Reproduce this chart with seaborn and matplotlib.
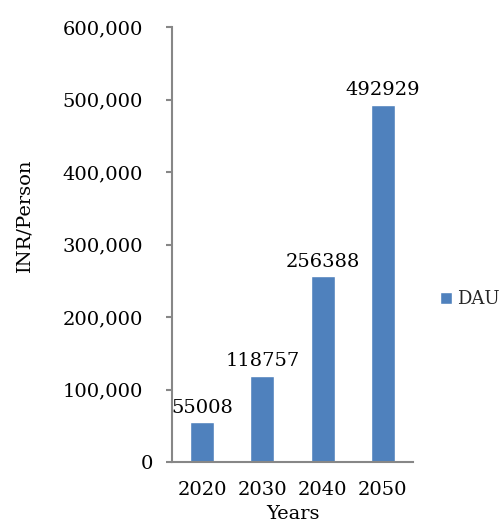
import matplotlib
matplotlib.use("Agg")
import matplotlib.pyplot as plt
import seaborn as sns
import pandas as pd
from matplotlib.ticker import FuncFormatter
from matplotlib.transforms import ScaledTranslation

years = ["2020", "2030", "2040", "2050"]
dau_values = [55008, 118757, 256388, 492929]
series_name = "DAU"
y_ticks = [0, 100000, 200000, 300000, 400000, 500000, 600000]

df = pd.DataFrame({"Years": years, "Value": dau_values, "Series": series_name})

sns.set_theme(style="white")
plt.rcParams["font.family"] = ["DejaVu Serif"]

FS = 14

fig = plt.figure(figsize=(5.02, 5.25), dpi=100)
ax = fig.add_axes([172 / 502, (525 - 462) / 525, 241 / 502, 435 / 525])

sns.barplot(data=df, x="Years", y="Value", hue="Series", palette=["#4F81BD"],
            width=0.4, ax=ax, legend=True, saturation=1)

ax.set_ylim(0, 600000)
ax.set_yticks(y_ticks)
ax.yaxis.set_major_formatter(FuncFormatter(lambda v, p: f"{int(v):,}"))

axis_color = "#878787"
for s in ["top", "right"]:
    ax.spines[s].set_visible(False)
for s in ["left", "bottom"]:
    ax.spines[s].set_color(axis_color)
    ax.spines[s].set_linewidth(1.5)

ax.tick_params(axis="y", left=True, length=4, width=1.5, color=axis_color,
               labelsize=FS, pad=17, labelcolor="black")
ax.tick_params(axis="x", bottom=False, labelsize=FS, pad=8, labelcolor="black")

# the zero label sits a little closer to the axis
zero_label = ax.yaxis.get_major_ticks()[0].label1
zero_label.set_transform(zero_label.get_transform() +
                         ScaledTranslation(0.10, 0, fig.dpi_scale_trans))

# value labels above each bar
for container in ax.containers:
    ax.bar_label(container, labels=[str(v) for v in dau_values], padding=4,
                 fontsize=FS, color="black")

ax.set_xlabel("Years", fontsize=FS, color="black", labelpad=4)
ax.set_ylabel("INR/Person", fontsize=FS, color="black")
ax.yaxis.set_label_coords((33 - 172) / 241, (462 - 215) / 435)

leg = ax.legend(loc="center left", bbox_to_anchor=((440 - 172) / 241, (462 - 299) / 435),
                frameon=False, fontsize=13, handlelength=0.65, handleheight=0.65,
                handletextpad=0.3, borderpad=0, borderaxespad=0)

fig.savefig("out.png", dpi=100, facecolor="white")
